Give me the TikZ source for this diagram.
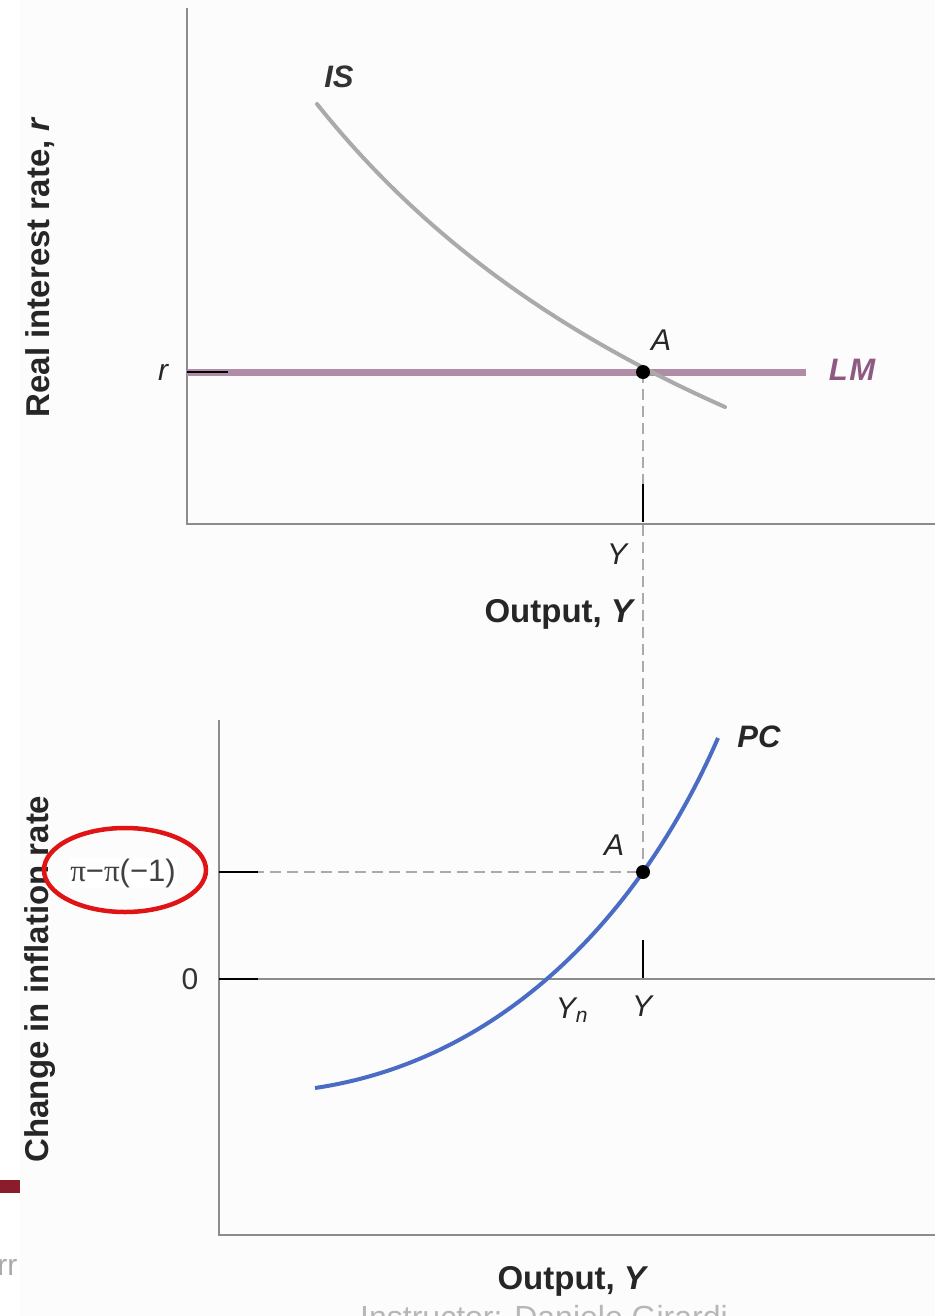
\documentclass[tikz,border=0pt]{standalone}
\usepackage{fontspec}
\usetikzlibrary{shapes.geometric}
\setmainfont{Liberation Sans}
\newfontfamily\pifont{Liberation Serif}
\definecolor{axisgray}{HTML}{8C8C8C}
\definecolor{isgray}{HTML}{AAAAAA}
\definecolor{lmmauve}{HTML}{B08CA6}
\definecolor{lmtext}{HTML}{8E5A80}
\definecolor{pcblue}{HTML}{4A6CC4}
\definecolor{dashgray}{HTML}{AAAAAA}
\definecolor{ringred}{HTML}{E01414}
\definecolor{barred}{HTML}{8B1C2C}
\definecolor{faint}{HTML}{AAAAAA}
\definecolor{bg}{HTML}{FCFCFC}
\tikzset{
  axisline/.style={draw=axisgray, line width=1.6},
  tickmark/.style={draw=black, line width=1.8},
  guide/.style={draw=dashgray, line width=1.3, dash pattern=on 11 off 6},
  axislabel/.style={font=\fontsize{33}{33}\selectfont\bfseries, text=black!85},
  ticklabel/.style={font=\fontsize{30}{30}\selectfont\itshape, text=black!85},
  curvelabel/.style={font=\fontsize{31}{31}\selectfont\bfseries\itshape},
  eqpoint/.style={circle, fill=black, inner sep=0pt, minimum size=14}
}
\begin{document}
\begin{tikzpicture}[x=1pt,y=-1pt]
\useasboundingbox (0,0) rectangle (935,1316);
\begin{scope}
\clip (0,0) rectangle (935,1316);
\fill[white] (0,0) rectangle (935,1316);
\fill[bg] (20,0) rectangle (935,1316);

% ---------- top panel ----------
\coordinate (topO) at (187,524);
\coordinate (topYtop) at (187,8);
\coordinate (topXend) at (935,524);
\draw[axisline] (topYtop) -- (topO) -- (topXend);

\coordinate (Atop) at (643,372);
\coordinate (lmStart) at (187,372);
\coordinate (lmEnd) at (806,372);
\draw[draw=lmmauve, line width=7] (lmStart) -- (lmEnd);
\coordinate (rTickEnd) at (228,372);
\draw[tickmark] (lmStart) -- (rTickEnd);

\draw[draw=isgray, line width=4, line cap=round]
  (317,104) .. controls (427,242) and (565,336) .. (725,407);

% vertical guide through both panels
\coordinate (Abot) at (643,872);
\draw[guide] (Atop) -- (Abot);
\coordinate (yTickTopA) at (643,484);
\coordinate (yTickTopB) at (643,522);
\draw[tickmark] (yTickTopA) -- (yTickTopB);

\node[eqpoint] (ptA1) at (Atop) {};
\node[ticklabel] (lblA1) at (661,340) {A};
\node[curvelabel, text=lmtext] (lblLM) at (852,370) {L\kern1.5pt M};
\node[curvelabel, text=black!80] (lblIS) at (339,77) {IS};
\node[ticklabel] (lblr) at (163,372) {r};
\node[ticklabel] (lblY1) at (617,554) {Y};
\node[axislabel] (xlab1) at (560,614) {Output, \textit{Y}};
\node[axislabel, rotate=90] (ylab1) at (40,267) {Real interest rate, \textit{r}};

% ---------- bottom panel ----------
\coordinate (botO) at (219,1235);
\coordinate (botYtop) at (219,720);
\coordinate (botXend) at (935,1235);
\draw[axisline] (botYtop) -- (botO) -- (botXend);
\coordinate (zeroL) at (219,979);
\coordinate (zeroR) at (935,979);
\draw[axisline] (zeroL) -- (zeroR);
\coordinate (zeroTick) at (258,979);
\draw[tickmark] (zeroL) -- (zeroTick);

\coordinate (piL) at (219,872);
\draw[guide] (piL) -- (Abot);
\coordinate (piTick) at (258,872);
\draw[tickmark] (piL) -- (piTick);

\coordinate (yTickBotA) at (643,940);
\coordinate (yTickBotB) at (643,978);
\draw[tickmark] (yTickBotA) -- (yTickBotB);

\draw[draw=pcblue, line width=4]
  (315,1088) .. controls (510,1059) and (645,906) .. (718,738);

\node[eqpoint] (ptA2) at (Abot) {};
\node[ticklabel] (lblA2) at (614,845) {A};
\node[curvelabel, text=black!85] (lblPC) at (759,737) {PC};
\node[font=\fontsize{30}{30}\selectfont, text=black!80] (lbl0) at (190,979) {0};
\node[ticklabel] (lblYn) at (572,1010) {Y\textsubscript{n}};
\node[ticklabel] (lblY2) at (642,1006) {Y};
\node[axislabel] (xlab2) at (573,1281) {Output, \textit{Y}};
\node[axislabel, rotate=90] (ylab2) at (40,979) {Change in inflation rate};

\node[font=\fontsize{31}{31}\selectfont, text=black!75, fill=white, inner sep=1pt] (piLabel) at (123,873) {{\pifont π}−{\pifont π}(−1)};
\node[draw=ringred, line width=4.5, ellipse, minimum width=162, minimum height=84, inner sep=0pt] (ring) at (125,870) {};

% ---------- slide remnants ----------
\fill[barred] (0,1180) rectangle (20,1193);
\node[font=\fontsize{30}{30}\selectfont, text=faint, anchor=base east] (rr) at (21,1275) {rr};
\node[font=\fontsize{32}{32}\selectfont, text=faint!85, anchor=base] (instr) at (544,1328) {Instructor: Daniele Girardi};
\end{scope}
\end{tikzpicture}
\end{document}
